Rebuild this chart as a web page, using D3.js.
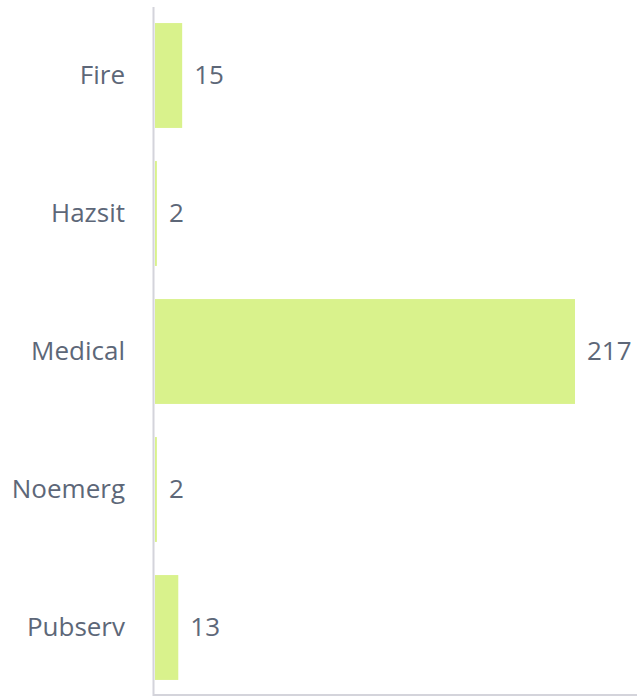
<!DOCTYPE html>
<html>
<head>
<meta charset="utf-8">
<script src="https://cdn.jsdelivr.net/npm/d3@7"></script>
<style>
  html, body { margin: 0; padding: 0; background: #fff; }
  svg text { font-family: 'Open Sans', sans-serif; }
</style>
</head>
<body>
<div id="chart"></div>
<script>
var width = 637, height = 697;

var categories = ['Fire', 'Hazsit', 'Medical', 'Noemerg', 'Pubserv'];
var counts = [15, 2, 217, 2, 13];

var data = categories.map(function (c, i) { return { name: c, value: counts[i] }; });

var svg = d3.select('#chart').append('svg')
    .attr('width', width)
    .attr('height', height);

var x = d3.scaleLinear()
    .domain([0, 217])
    .range([155, 577]);

var y = d3.scaleBand()
    .domain(categories)
    .range([6.5, 696.5])
    .paddingInner(0.24)
    .paddingOuter(0.12);

// bars (small gap at the end, like the original)
svg.selectAll('rect.bar')
    .data(data)
    .enter().append('rect')
    .attr('class', 'bar')
    .attr('x', x(0))
    .attr('y', (d) => y(d.name))
    .attr('width', (d) => Math.max(1, x(d.value) - x(0) - 2))
    .attr('height', y.bandwidth())
    .style('fill', '#d9f28c');

// value labels
svg.selectAll('text.val')
    .data(data)
    .enter().append('text')
    .attr('class', 'val')
    .attr('x', (d) => x(d.value) + 10)
    .attr('y', (d) => y(d.name) + y.bandwidth() / 2)
    .attr('dy', '0.31em')
    .attr('fill', '#5d6778')
    .style('font-size', '26px')
    .text((d) => d.value);

// category labels
svg.selectAll('text.cat')
    .data(data)
    .enter().append('text')
    .attr('class', 'cat')
    .attr('x', 125)
    .attr('y', (d) => y(d.name) + y.bandwidth() / 2)
    .attr('dy', '0.31em')
    .attr('text-anchor', 'end')
    .attr('fill', '#5d6778')
    .style('font-size', '26px')
    .text((d) => d.name);

// axis lines
svg.append('line')
    .attr('x1', 153.5).attr('x2', 153.5)
    .attr('y1', 7).attr('y2', 696)
    .attr('stroke', '#d4d4db')
    .attr('stroke-width', 2);

svg.append('line')
    .attr('x1', 153).attr('x2', width)
    .attr('y1', 695).attr('y2', 695)
    .attr('stroke', '#d4d4db')
    .attr('stroke-width', 2);
</script>
</body>
</html>
